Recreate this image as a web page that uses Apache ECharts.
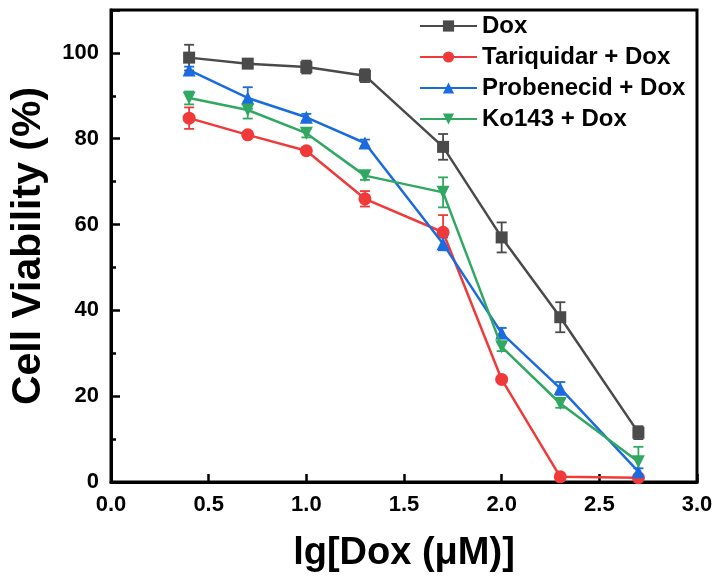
<!DOCTYPE html>
<html><head><meta charset="utf-8">
<script src="https://cdn.jsdelivr.net/npm/echarts@6/dist/echarts.min.js"></script>
<style>html,body{margin:0;padding:0;background:#fff}#c{width:716px;height:581px}</style>
</head><body><div id="c"></div>
<script>
const xValues = [0.4, 0.7, 1.0, 1.3, 1.7, 2.0, 2.3, 2.7];
const seriesNames = ['Dox', 'Tariquidar + Dox', 'Probenecid + Dox', 'Ko143 + Dox'];
const doxValues = [98.9, 97.5, 96.7, 94.7, 78.1, 57.0, 38.4, 11.5];
const doxErrors = [3.0, 1.0, 1.5, 1.5, 3.0, 3.5, 3.5, 1.5];
const tariquidarValues = [84.8, 80.9, 77.2, 66.0, 58.2, 23.9, 1.2, 1.0];
const tariquidarErrors = [2.5, 0.5, 0.5, 1.8, 4.0, 0.5, 0.3, 0.3];
const probenecidValues = [96.0, 89.5, 85.0, 79.0, 55.5, 34.7, 21.8, 2.4];
const probenecidErrors = [0.8, 2.5, 0.8, 0.8, 1.5, 1.2, 1.5, 0.8];
const ko143Values = [89.5, 86.7, 81.3, 71.4, 67.5, 31.5, 18.3, 4.7];
const ko143Errors = [1.5, 2.0, 1.0, 1.0, 3.5, 1.0, 1.0, 3.5];
const xTicks = [0, 0.5, 1.0, 1.5, 2.0, 2.5, 3.0];
const yTicks = [0, 20, 40, 60, 80, 100];

const colors = ['#4a4a4a', '#f03a3a', '#1a6be0', '#30a862'];
const symbols = ['rect', 'circle', 'triangle', 'path://M0,0 L10,0 L5,9 Z'];
const valueSets = [doxValues, tariquidarValues, probenecidValues, ko143Values];
const errorSets = [doxErrors, tariquidarErrors, probenecidErrors, ko143Errors];
const FONT = '"Liberation Sans", Arial, sans-serif';

const series = [];
valueSets.forEach((vals, i) => {
  series.push({
    name: seriesNames[i], type: 'line',
    data: xValues.map((x, j) => [x, vals[j]]),
    symbol: symbols[i], symbolSize: i === 0 ? 12 : 13,
    itemStyle: { color: colors[i] },
    lineStyle: { color: colors[i], width: 2.5 },
    z: 3 + i
  });
  series.push({
    type: 'custom', name: seriesNames[i] + ' err',
    data: xValues.map((x, j) => [x, vals[j] - errorSets[i][j], vals[j] + errorSets[i][j]]),
    renderItem: function (params, api) {
      const lo = api.coord([api.value(0), api.value(1)]);
      const hi = api.coord([api.value(0), api.value(2)]);
      const w = 5;
      const st = { stroke: colors[i], lineWidth: 1.8 };
      return { type: 'group', children: [
        { type: 'line', shape: { x1: lo[0], y1: lo[1], x2: hi[0], y2: hi[1] }, style: st },
        { type: 'line', shape: { x1: lo[0] - w, y1: lo[1], x2: lo[0] + w, y2: lo[1] }, style: st },
        { type: 'line', shape: { x1: hi[0] - w, y1: hi[1], x2: hi[0] + w, y2: hi[1] }, style: st }
      ]};
    },
    encode: { x: 0, y: [1, 2] },
    z: 2 + i, silent: true
  });
});

const chart = echarts.init(document.getElementById('c'));
chart.setOption({
  animation: false,
  backgroundColor: '#fff',
  grid: { left: 107, top: 10, right: 19, bottom: 99, show: true, borderColor: '#000', borderWidth: 3 },
  legend: {
    data: seriesNames, orient: 'vertical', left: 414, top: 9,
    itemWidth: 57, itemHeight: 14, itemGap: 7,
    textStyle: { fontFamily: FONT, fontWeight: 'bold', fontSize: 24, lineHeight: 24, color: '#000' }
  },
  xAxis: {
    type: 'value', min: 0, max: 3, interval: 0.5,
    name: 'lg[Dox (μM)]', nameLocation: 'middle', nameGap: 53,
    nameTextStyle: { fontFamily: FONT, fontWeight: 'bold', fontSize: 38, color: '#000' },
    axisLine: { show: true, lineStyle: { color: '#000', width: 3 } },
    axisTick: { show: true, inside: true, length: 8, lineStyle: { color: '#000', width: 2.5 } },
    axisLabel: { fontFamily: FONT, fontWeight: 'bold', fontSize: 22, color: '#000', margin: 12,
      formatter: v => xTicks.includes(v) ? v.toFixed(1) : '' },
    splitLine: { show: false }
  },
  yAxis: {
    type: 'value', min: 0, max: 110, interval: 20,
    name: 'Cell Viability (%)', nameLocation: 'middle', nameGap: 62,
    nameTextStyle: { fontFamily: FONT, fontWeight: 'bold', fontSize: 41, color: '#000' },
    axisLine: { show: true, lineStyle: { color: '#000', width: 3 } },
    axisTick: { show: true, inside: true, length: 9, lineStyle: { color: '#000', width: 2.5 } },
    minorTick: { show: true, splitNumber: 2, length: 5, lineStyle: { color: '#000', width: 2.5 } },
    axisLabel: { fontFamily: FONT, fontWeight: 'bold', fontSize: 22, color: '#000', margin: 12,
      showMaxLabel: false, formatter: v => yTicks.includes(v) ? String(v) : '' },
    splitLine: { show: false }
  },
  series: series
});
</script></body></html>
